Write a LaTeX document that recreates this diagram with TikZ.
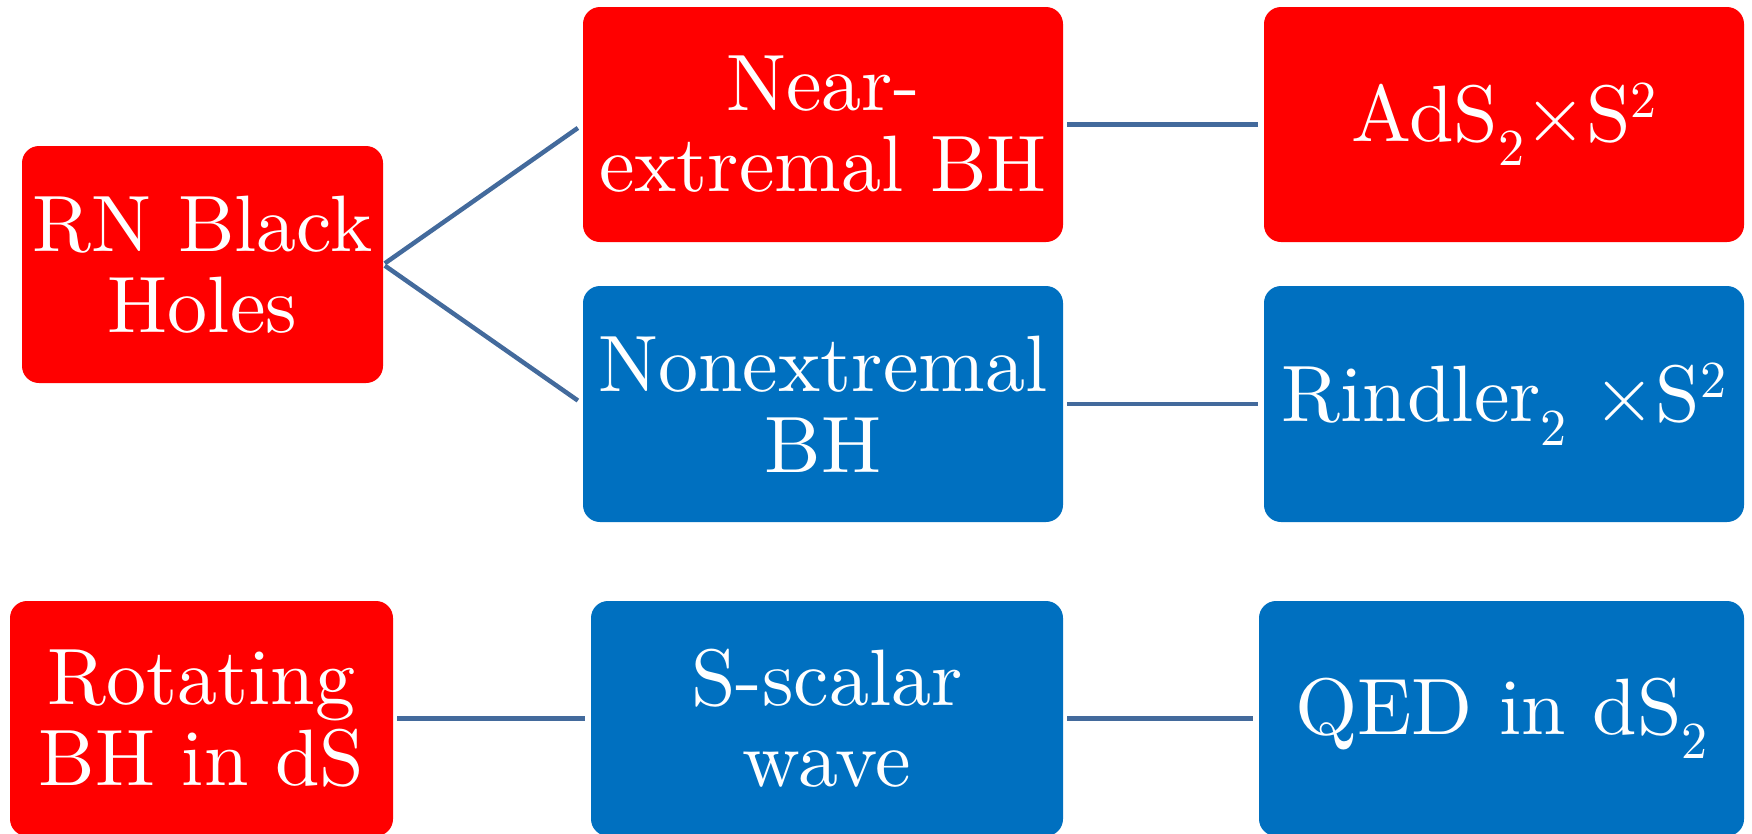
\documentclass[tikz,border=0pt]{standalone}
\usepackage{fontspec}
% the 10pt design of Latin Modern, scaled up, for its heavier strokes
\setmainfont{lmroman10-regular}[Extension=.otf]
\definecolor{boxred}{RGB}{255,0,0}
\definecolor{boxblue}{RGB}{0,112,192}
\definecolor{linkblue}{RGB}{67,106,156}
% lowered and raised small figures for indices
\newcommand{\lowidx}[1]{\raisebox{-0.3em}{\fontsize{52}{52}\selectfont #1}}
\newcommand{\highidx}[1]{\raisebox{0.3em}{\fontsize{52}{52}\selectfont #1}}
\tikzset{
  card/.style={rounded corners=17pt, text=white, align=center, inner sep=0pt,
    font=\fontsize{80}{81}\selectfont},
  redcard/.style={card, fill=boxred},
  bluecard/.style={card, fill=boxblue},
  link/.style={draw=linkblue, line width=4.5pt, shorten <=2pt, shorten >=6pt}
}
\begin{document}
\begin{tikzpicture}[x=1pt,y=-1pt]
\useasboundingbox (0,0) rectangle (1752,833);
% top tree: RN black holes and its two limits
\node[redcard, minimum width=361pt, minimum height=237pt] (rn) at (202.5,264.5) {RN Black\\Holes};
\node[redcard, minimum width=480pt, minimum height=235pt] (near) at (823,124.5) {Near-\\extremal BH};
\node[redcard, minimum width=480pt, minimum height=235pt] (ads) at (1504,124.5) {AdS\lowidx{2}×S\highidx{2}};
\node[bluecard, minimum width=480pt, minimum height=236pt] (non) at (823,404) {Nonextremal\\BH};
\node[bluecard, minimum width=480pt, minimum height=236pt] (rin) at (1504,404) {Rindler\lowidx{2} ×S\highidx{2}};
% bottom row: rotating black hole in de Sitter
\node[redcard, minimum width=383pt, minimum height=235pt] (rot) at (201.5,718.5) {Rotating\\BH in dS};
\node[bluecard, minimum width=472pt, minimum height=235pt] (ssc) at (827,718.5) {S-scalar\\wave};
\node[bluecard, minimum width=485pt, minimum height=235pt] (qed) at (1501.5,718.5) {QED in dS\lowidx{2}};
% connectors
\draw[link] (rn.east) -- (near.west);
\draw[link] (rn.east) -- (non.west);
\draw[link, shorten <=4pt] (near.east) -- (ads.west);
\draw[link, shorten <=4pt] (non.east) -- (rin.west);
\draw[link, shorten <=4pt] (rot.east) -- (ssc.west);
\draw[link, shorten <=4pt] (ssc.east) -- (qed.west);
\end{tikzpicture}
\end{document}
